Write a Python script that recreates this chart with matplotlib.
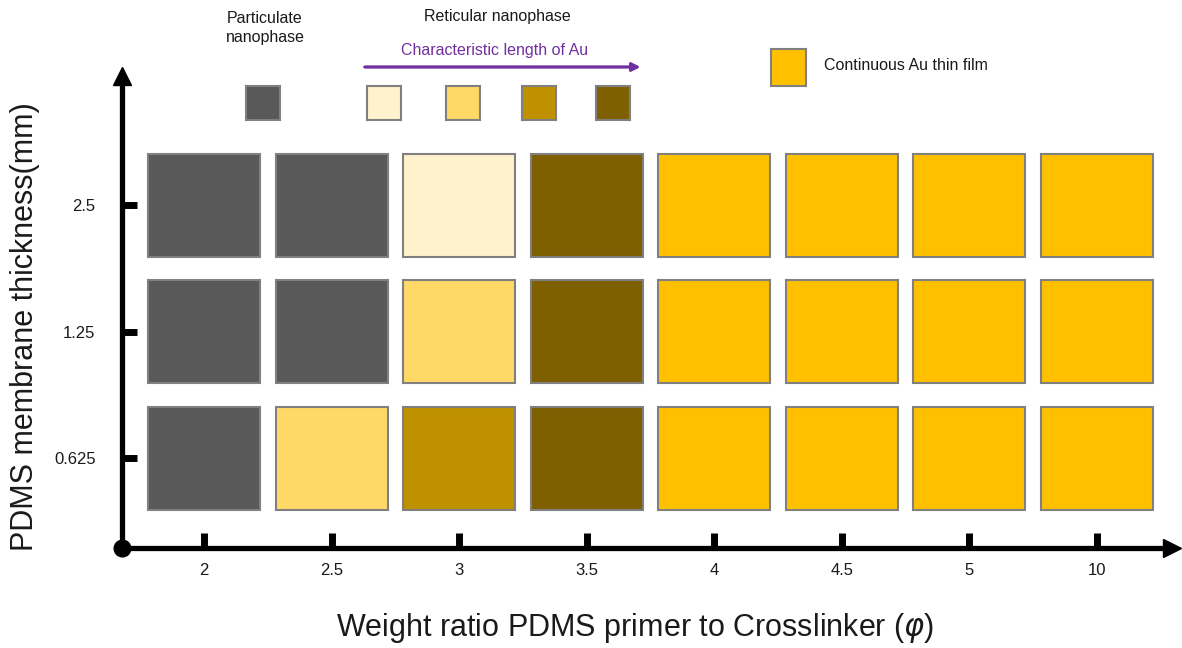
import numpy as np
import matplotlib.pyplot as plt
from matplotlib.patches import Rectangle

plt.rcParams['font.family'] = ['Liberation Sans', 'DejaVu Sans']

# categories
ratio_labels = ['2', '2.5', '3', '3.5', '4', '4.5', '5', '10']
thickness_labels = ['0.625', '1.25', '2.5']

# phase level per cell: 0 particulate, 1-4 reticular (short -> long), 5 continuous film
phase_0625 = [0, 2, 3, 4, 5, 5, 5, 5]
phase_125 = [0, 0, 2, 4, 5, 5, 5, 5]
phase_25 = [0, 0, 1, 4, 5, 5, 5, 5]

phase_colors = ['#595959', '#FFF2CC', '#FFD966', '#BF9000', '#7F6000', '#FFC000']
edge_color = '#808080'

W, H = 1182, 648
fig = plt.figure(figsize=(W / 100, H / 100), dpi=100)
fig.patch.set_facecolor('white')


def fx(x):
    return x / W


def fy(y):
    return 1 - y / H


# axes box: origin at (122,548) px, arrows reach the right and top
ax = fig.add_axes([fx(122), fy(548), (1172 - 122) / W, (548 - 76) / H])
ax.set_xlim(-0.643, 7.588)
ax.set_ylim(-0.711, 3.020)

grid = np.array([phase_0625, phase_125, phase_25])
sw, sh = 0.878, 0.814
for r in range(grid.shape[0]):
    for c in range(grid.shape[1]):
        ax.add_patch(Rectangle((c - sw / 2, r - sh / 2), sw, sh,
                               facecolor=phase_colors[grid[r, c]],
                               edgecolor=edge_color, linewidth=1.5))

ax.set_xticks(range(len(ratio_labels)))
ax.set_xticklabels(ratio_labels)
ax.set_yticks(range(len(thickness_labels)))
ax.set_yticklabels(thickness_labels)
ax.tick_params(axis='both', direction='in', length=11, width=5, labelsize=12,
               colors='black', labelcolor='#1a1a1a')
ax.tick_params(axis='x', pad=11)
ax.tick_params(axis='y', pad=19)

for s in ['top', 'right']:
    ax.spines[s].set_visible(False)
for s in ['left', 'bottom']:
    ax.spines[s].set_linewidth(3.8)
ax.patch.set_alpha(0)

# arrow heads and origin dot
ax.plot([0], [0], transform=ax.transAxes, marker='o', markersize=12, color='black', clip_on=False)
ax.plot([1], [0], transform=ax.transAxes, marker='>', markersize=13, color='black', clip_on=False)
ax.plot([0], [1], transform=ax.transAxes, marker='^', markersize=13, color='black', clip_on=False)

fig.text(fx(635), fy(628), r'Weight ratio PDMS primer to Crosslinker ($\varphi$)',
         ha='center', va='center', fontsize=22, color='#1a1a1a')
fig.text(fx(25), fy(327), 'PDMS membrane thickness(mm)', rotation=90,
         ha='center', va='center', fontsize=22, color='#1a1a1a')

# top annotations / legend
fig.text(fx(265), fy(28), 'Particulate\nnanophase', ha='center', va='center',
         fontsize=11.5, linespacing=1.3, color='#1a1a1a')
fig.text(fx(497), fy(17), 'Reticular nanophase', ha='center', va='center',
         fontsize=11.5, color='#1a1a1a')
fig.text(fx(495), fy(50), 'Characteristic length of Au', ha='center', va='center',
         fontsize=11.5, color='#7030A0')
fig.add_artist(plt.annotate('', xy=(fx(643), fy(67)), xytext=(fx(362), fy(67)),
                            xycoords='figure fraction', textcoords='figure fraction',
                            arrowprops=dict(arrowstyle='-|>', color='#7030A0', lw=2,
                                            mutation_scale=12)))

legend_x = [263, 384, 463, 539, 613]
for lvl, cx in zip(range(5), legend_x):
    fig.add_artist(Rectangle((fx(cx - 17), fy(120)), 34 / W, 34 / H,
                             transform=fig.transFigure, facecolor=phase_colors[lvl],
                             edgecolor=edge_color, linewidth=1.5))
fig.add_artist(Rectangle((fx(771), fy(86)), 35 / W, 37 / H,
                         transform=fig.transFigure, facecolor=phase_colors[5],
                         edgecolor=edge_color, linewidth=1.5))
fig.text(fx(824), fy(66), 'Continuous Au thin film', ha='left', va='center',
         fontsize=11.5, color='#1a1a1a')

plt.savefig('out.png', dpi=100)
